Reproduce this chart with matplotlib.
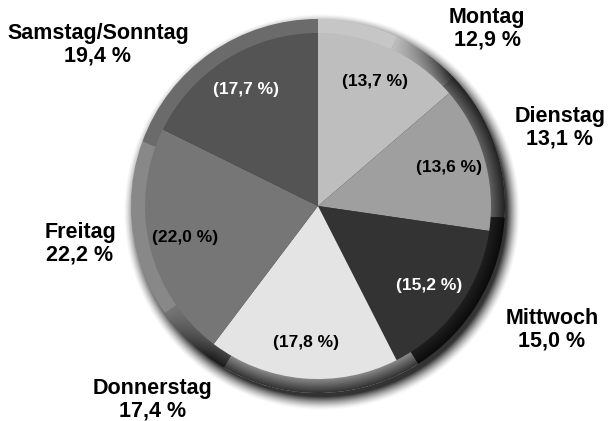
#!/usr/bin/env python3

import numpy as np
import matplotlib
matplotlib.use("Agg")
import matplotlib.pyplot as plt
from matplotlib.patches import Wedge

days = ["Montag", "Dienstag", "Mittwoch", "Donnerstag", "Freitag", "Samstag/Sonntag"]
outer_vals = [12.9, 13.1, 15.0, 17.4, 22.2, 19.4]
inner_vals = [13.7, 13.6, 15.2, 17.8, 22.0, 17.7]
colors = ["#bebebe", "#9f9f9f", "#333333", "#e4e4e4", "#767676", "#545454"]
inner_text_colors = ["black", "black", "white", "black", "black", "white"]

# label anchor points in pixel coords (x, y from top)
outer_label_pos = [(487, 29), (560, 128), (552, 330), (153, 400), (80, 244), (98, 45)]

W, H = 613, 421
cx, cy = 318, H - 206
R_out, R_in = 187, 173


def fmt(v):
  return ("%.1f" % v).replace(".", ",")


fig = plt.figure(figsize=(W / 100, H / 100), dpi=100)
ax = fig.add_axes([0, 0, 1, 1])
ext = (cx - 220, cx + 220, cy - 220, cy + 220)

# drop shadow, offset to bottom right
gx, gy = np.meshgrid(np.linspace(cx - 220, cx + 220, 441), np.linspace(cy - 220, cy + 220, 441))
d = np.hypot(gx - (cx + 4), gy - (cy - 6))
shadow = np.zeros(gx.shape + (4,))
shadow[..., 3] = 0.8 * np.clip((R_out + 12 - d) / 14, 0, 1) ** 1.5
ax.imshow(shadow, extent=ext, origin="lower", zorder=0, interpolation="bilinear")

# outer ring
ax.pie(outer_vals, colors=colors, radius=R_out, center=(cx, cy), startangle=90,
       counterclock=False, wedgeprops=dict(width=R_out - R_in + 1, linewidth=0))

# ring shading (bevel): dark on the lower right, a bit lighter on the upper left
ang = np.degrees(np.arctan2(gy - cy, gx - cx))
da = np.abs((ang + 40 + 180) % 360 - 180)
t = np.clip((105 - da) / 20, 0, 1)
rr = np.hypot(gx - cx, gy - cy)
edge = np.clip((rr - R_in) / (R_out - R_in), 0, 1)
dark = 0.78 * t * (0.5 + 0.5 * edge)
light = 0.14 * (1 - t)
shade = np.zeros(gx.shape + (4,))
shade[..., :3] = np.where(t[..., None] > 0, 0.0, 1.0)
shade[..., 3] = np.where(t > 0, dark, light)
im = ax.imshow(shade, extent=ext, origin="lower", zorder=3, interpolation="bilinear")
ring = Wedge((cx, cy), R_out, 0, 360, width=R_out - R_in + 1, transform=ax.transData)
im.set_clip_path(ring)

# inner pie
wedges, texts = ax.pie(inner_vals, colors=colors, radius=R_in, center=(cx, cy), startangle=90,
                       counterclock=False, labels=["(%s %%)" % fmt(v) for v in inner_vals],
                       labeldistance=0.79, wedgeprops=dict(linewidth=0),
                       textprops=dict(fontsize=12.5, fontweight="bold", family="Liberation Sans",
                                      ha="center", va="center"))
for w in wedges:
  w.set_zorder(4)
for tx, c in zip(texts, inner_text_colors):
  tx.set_color(c)
  tx.set_ha("center")
  tx.set_zorder(5)

for name, v, (x, y) in zip(days, outer_vals, outer_label_pos):
  ax.text(x, H - y, "%s\n%s %%" % (name, fmt(v)), ha="center", va="center",
          fontsize=15.5, fontweight="bold", family="Liberation Sans", linespacing=1.1,
          zorder=6)

ax.set_xlim(0, W)
ax.set_ylim(0, H)
ax.set_aspect("equal")
ax.axis("off")
plt.savefig("out.png", dpi=100)
